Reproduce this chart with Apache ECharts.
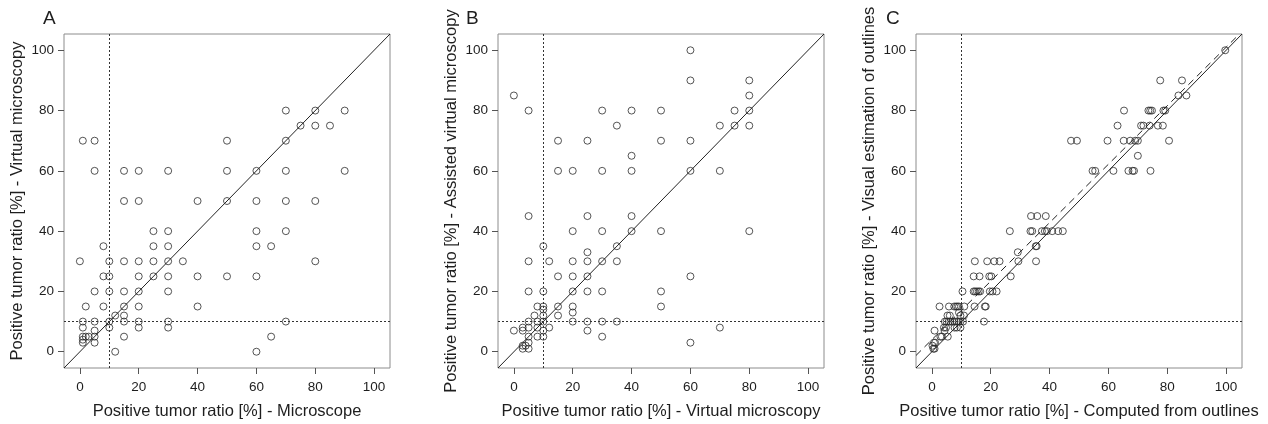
<!DOCTYPE html>
<html>
<head>
<meta charset="utf-8">
<script src="https://cdn.jsdelivr.net/npm/echarts@6/dist/echarts.min.js"></script>
<style>
html, body { margin: 0; padding: 0; background: #fff; }
#chart { width: 1268px; height: 424px; }
</style>
</head>
<body>
<div id="chart"></div>
<script>
// axis range and ticks (same for all three panels)
var AXIS_MIN = -5.4;
var AXIS_MAX = 105.4;
var tickValues = [0, 20, 40, 60, 80, 100];
var cutoff = 10;

var panelLetters = ['A', 'B', 'C'];
var xTitles = [
    'Positive tumor ratio [%] - Microscope',
    'Positive tumor ratio [%] - Virtual microscopy',
    'Positive tumor ratio [%] - Computed from outlines'
];
var yTitles = [
    'Positive tumor ratio [%] - Virtual microscopy',
    'Positive tumor ratio [%] - Assisted virtual microscopy',
    'Positive tumor ratio [%] - Visual estimation of outlines'
];

// A: microscope vs virtual microscopy
var pointsA = [
    [70,80],[80,80],[90,80],
    [75,75],[80,75],[85,75],
    [1,70],[5,70],[50,70],[70,70],
    [5,60],[15,60],[20,60],[30,60],[50,60],[60,60],[70,60],[90,60],
    [15,50],[20,50],[40,50],[50,50],[60,50],[70,50],[80,50],
    [25,40],[30,40],[60,40],[70,40],
    [8,35],[25,35],[30,35],[60,35],[65,35],
    [0,30],[10,30],[15,30],[20,30],[25,30],[30,30],[35,30],[80,30],
    [8,25],[10,25],[20,25],[25,25],[30,25],[40,25],[50,25],[60,25],
    [5,20],[10,20],[15,20],[20,20],[30,20],
    [2,15],[8,15],[15,15],[20,15],[40,15],
    [12,12],[15,12],
    [1,10],[5,10],[10,10],[15,10],[20,10],[30,10],[70,10],
    [1,8],[10,8],[20,8],[30,8],
    [5,7],
    [1,5],[2,5],[3,5],[5,5],[15,5],[65,5],
    [1,4],[1,3],[5,3],
    [12,0],[60,0]
];

// B: virtual vs assisted virtual microscopy
var pointsB = [
    [60,100],
    [60,90],[80,90],
    [0,85],[80,85],
    [5,80],[30,80],[40,80],[50,80],[75,80],[80,80],
    [35,75],[70,75],[75,75],[80,75],
    [15,70],[25,70],[50,70],[60,70],
    [40,65],
    [15,60],[20,60],[30,60],[40,60],[60,60],[70,60],
    [5,45],[25,45],[40,45],
    [20,40],[30,40],[40,40],[50,40],[80,40],
    [10,35],[35,35],
    [25,33],
    [5,30],[12,30],[20,30],[25,30],[30,30],[35,30],
    [15,25],[20,25],[25,25],[60,25],
    [5,20],[10,20],[20,20],[25,20],[30,20],[50,20],
    [8,15],[10,15],[15,15],[20,15],[50,15],
    [10,14],[20,13],
    [7,12],[10,12],[15,12],
    [5,10],[8,10],[10,10],[20,10],[25,10],[30,10],[35,10],
    [3,8],[5,8],[8,8],[12,8],[70,8],
    [0,7],[3,7],[10,7],[25,7],
    [5,5],[8,5],[10,5],[30,5],
    [5,3],[60,3],
    [3,2],[4,2],[3,1],[5,1]
];

// C: computed from outlines vs visual estimation
var pointsC = [
    [99.7,100],
    [77.6,90],[85,90],
    [83.8,85],[86.5,85],
    [65.3,80],[73.6,80],[74.2,80],[74.8,80],[78.7,80],[79.3,80],
    [63.1,75],[71.1,75],[71.9,75],[74,75],[76.8,75],[78.5,75],
    [47.3,70],[49.3,70],[59.7,70],[65.2,70],[67.4,70],[69.1,70],[70,70],[80.6,70],
    [70,65],
    [54.6,60],[55.5,60],[61.7,60],[66.8,60],[68.2,60],[68.7,60],[74.3,60],
    [33.7,45],[35.8,45],[38.7,45],
    [26.5,40],[33.5,40],[34.1,40],[37.4,40],[38.4,40],[39.1,40],[40.9,40],[42.9,40],[44.5,40],
    [35.3,35],[35.6,35],
    [29.2,33],
    [14.6,30],[18.8,30],[21.2,30],[23,30],[29.4,30],[35.4,30],
    [14.2,25],[16.2,25],[19.5,25],[20.2,25],[26.8,25],
    [10.4,20],[14.2,20],[14.7,20],[15.3,20],[15.9,20],[16.4,20],[19.7,20],[20.6,20],[22,20],
    [2.6,15],[5.8,15],[7.6,15],[8.2,15],[8.7,15],[9.2,15],[11,15],[14.5,15],[18,15],[18.3,15],
    [9.2,13],
    [5.3,12],[6.1,12],[9.7,12],[10.9,12],
    [4.4,10],[5,10],[5.7,10],[6.3,10],[7,10],[7.7,10],[8.4,10],[9.1,10],[9.7,10],[10.6,10],[17.7,10],
    [4.1,8],[4.8,8],[7.7,8],[8.5,8],[9.7,8],
    [0.9,7],[4.3,7],
    [2.9,5],[3.4,5],[5.4,5],
    [0.7,3],[1.1,3],
    [0.2,2],[0.5,1],[0.9,1]
];

// fitted line in panel C (dashed)
var fitIntercept = 4;
var fitSlope = 0.97;

var panels = [pointsA, pointsB, pointsC];
var gridLefts = [64, 498, 916];
var letterLefts = [43, 466, 886];

var FONT = '"Liberation Sans", Arial, sans-serif';
var INK = '#1e1e1e';

var grids = [], xAxes = [], yAxes = [], series = [], graphics = [];

panels.forEach(function (pts, i) {
    grids.push({
        left: gridLefts[i], top: 34, width: 326, height: 334,
        outerBoundsMode: 'none', containLabel: false,
        show: true, borderColor: '#8c8c8c', borderWidth: 1
    });
    xAxes.push({
        gridIndex: i, type: 'value', min: AXIS_MIN, max: AXIS_MAX,
        name: xTitles[i], nameLocation: 'middle', nameGap: 35,
        nameTextStyle: {fontSize: 16.5, color: INK, fontFamily: FONT},
        axisLine: {show: false, onZero: false},
        axisTick: {show: true, length: 6, customValues: tickValues, lineStyle: {color: '#555'}},
        axisLabel: {customValues: tickValues, margin: 12, fontSize: 13.5, color: INK, fontFamily: FONT},
        splitLine: {show: false}
    });
    yAxes.push({
        gridIndex: i, type: 'value', min: AXIS_MIN, max: AXIS_MAX,
        name: yTitles[i], nameLocation: 'middle', nameGap: 38,
        nameTextStyle: {fontSize: 16.5, color: INK, fontFamily: FONT},
        axisLine: {show: false, onZero: false},
        axisTick: {show: true, length: 6, customValues: tickValues, lineStyle: {color: '#555'}},
        axisLabel: {customValues: tickValues, margin: 10, fontSize: 13.5, color: INK, fontFamily: FONT},
        splitLine: {show: false}
    });
    series.push({
        type: 'scatter',
        xAxisIndex: i, yAxisIndex: i,
        data: pts,
        symbol: 'circle', symbolSize: 7,
        itemStyle: {color: 'rgba(0,0,0,0)', borderColor: '#2a2a2a', borderWidth: 1},
        emphasis: {disabled: true},
        markLine: {
            silent: true, symbol: 'none',
            label: {show: false},
            data: [
                [{coord: [AXIS_MIN, AXIS_MIN], lineStyle: {color: '#222', width: 1, type: 'solid'}},
                 {coord: [AXIS_MAX, AXIS_MAX]}],
                {xAxis: cutoff, lineStyle: {color: '#333', width: 1, type: [2, 2]}},
                {yAxis: cutoff, lineStyle: {color: '#333', width: 1, type: [2, 2]}}
            ]
        }
    });
    graphics.push({
        type: 'text', left: letterLefts[i], top: 9,
        style: {text: panelLetters[i], fontSize: 19, fill: INK, font: '19px ' + FONT}
    });
});

// dashed fit line in C, clipped to the plot box
series.push({
    type: 'line',
    xAxisIndex: 2, yAxisIndex: 2,
    data: [
        [AXIS_MIN, fitIntercept + fitSlope * AXIS_MIN],
        [(AXIS_MAX - fitIntercept) / fitSlope, AXIS_MAX]
    ],
    showSymbol: false, silent: true,
    lineStyle: {color: '#222', width: 1, type: [7, 5]}
});

var myChart = echarts.init(document.getElementById('chart'));
myChart.setOption({
    animation: false,
    backgroundColor: '#fff',
    grid: grids,
    xAxis: xAxes,
    yAxis: yAxes,
    series: series,
    graphic: graphics
});
</script>
</body>
</html>
